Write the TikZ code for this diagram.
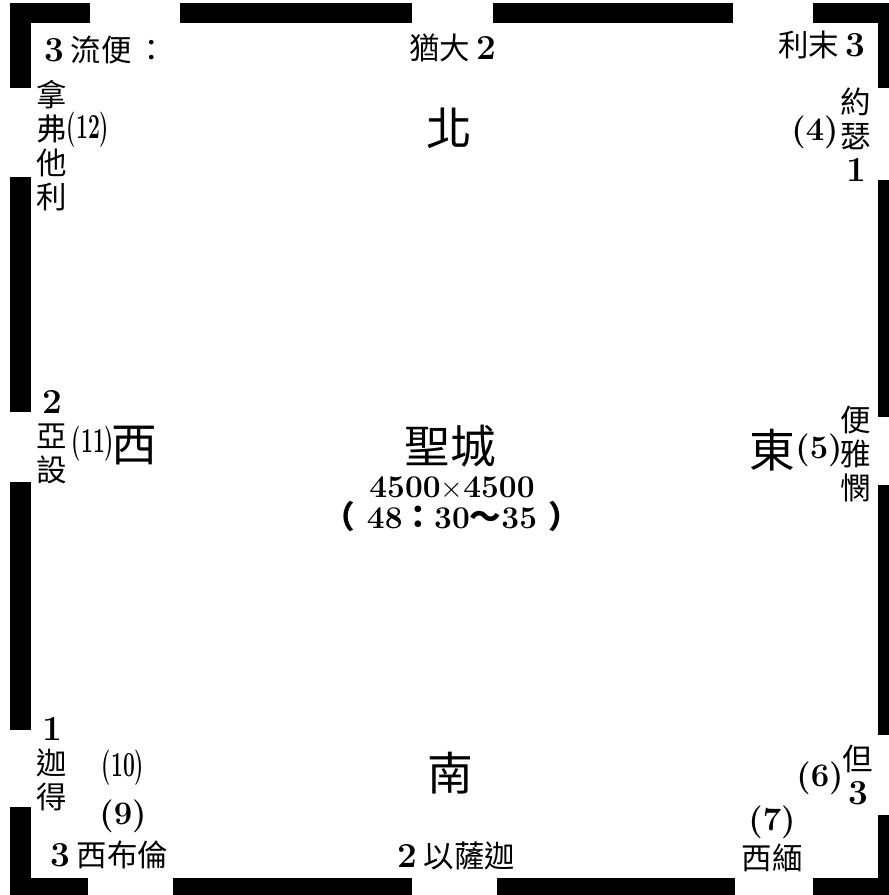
\documentclass[tikz,border=0pt]{standalone}
\usepackage{fontspec}
\usepackage{graphicx}
\newfontfamily\cjk{Noto Sans CJK TC}

\newcommand{\tnum}[1]{{\rmfamily\bfseries\fontsize{30}{30}\selectfont #1}}
\newcommand{\gno}[1]{{\rmfamily\bfseries\fontsize{28}{30}\selectfont (#1)}}
\newcommand{\gnarrow}[1]{\scalebox{0.6}[1]{\rmfamily\bfseries\fontsize{30}{30}\selectfont (#1)}}

\tikzset{
    tribe/.style={font=\cjk\fontsize{26}{29}\selectfont, inner sep=0pt, align=center},
    quarter/.style={font=\cjk\fontsize{39}{42}\selectfont, inner sep=0pt},
    gatenum/.style={inner sep=0pt},
    measure/.style={font=\rmfamily\bfseries\fontsize{27}{25}\selectfont, inner sep=0pt, align=center}
}

\begin{document}
\begin{tikzpicture}[x=0.3mm, y=-0.3mm]

    \useasboundingbox (0, 0) rectangle (889, 895);
    \clip (0, 0) rectangle (889, 895);

    % Walls with the twelve gates left open
    \foreach \a/\b in {10/90, 180/412, 493/733, 813/900} {
        \fill (\a, 3) rectangle (\b, 23);
    }
    \foreach \a/\b in {10/88, 173/412, 497/735, 813/900} {
        \fill (\a, 878) rectangle (\b, 900);
    }
    \foreach \a/\b in {3/88, 177/412, 482/730, 807/900} {
        \fill (10, \a) rectangle (31, \b);
    }
    \foreach \a/\b in {3/88, 180/417, 485/735, 815/900} {
        \fill (878, \a) rectangle (900, \b);
    }

    % North side
    \node[tribe, anchor=west] (reuben) at (44, 50) {\tnum{3} 流便\,：};
    \node[tribe] (judah) at (453, 48) {猶大 \tnum{2}};
    \node[tribe, anchor=east] (levi) at (866, 45) {利末 \tnum{3}};
    \node[quarter] (north) at (449, 128) {北};

    % West side
    \node[tribe] (naphtali) at (52, 146) {拿\\弗\\他\\利};
    \node[gatenum] (g12) at (88, 130) {\gnarrow{12}};
    \node[tribe] (asher) at (52, 437) {\tnum{2}\\亞\\設};
    \node[gatenum] (g11) at (93, 444) {\gnarrow{11}};
    \node[quarter] (west) at (134, 446) {西};
    \node[tribe] (gad) at (52, 764) {\tnum{1}\\迦\\得};
    \node[gatenum] (g10) at (123, 768) {\gnarrow{10}};
    \node[gatenum] (g9) at (123, 816) {\gno{9}};

    % East side
    \node[tribe] (joseph) at (856, 135) {約\\瑟\\\tnum{1}};
    \node[gatenum] (g4) at (815, 132) {\gno{4}};
    \node[quarter] (east) at (772, 450) {東};
    \node[gatenum] (g5) at (819, 450) {\gno{5}};
    \node[tribe] (benjamin) at (856, 454) {便\\雅\\憫};
    \node[tribe] (dan) at (858, 775) {但\\\tnum{3}};
    \node[gatenum] (g6) at (820, 778) {\gno{6}};

    % South side
    \node[quarter] (south) at (450, 773) {南};
    \node[gatenum] (g7) at (772, 822) {\gno{7}};
    \node[tribe] (simeon) at (772, 858) {西緬};
    \node[tribe] (issachar) at (456, 856) {\tnum{2} 以薩迦};
    \node[tribe, anchor=west] (zebulun) at (50, 855) {\tnum{3} 西布倫};

    % The city in the middle
    \node[quarter] (city) at (450, 446) {聖城};
    \node[measure] (size) at (452, 504) {4500$\times$4500\\{\cjk（} 48{\cjk：}30{\cjk～}35 {\cjk）}};

\end{tikzpicture}
\end{document}
